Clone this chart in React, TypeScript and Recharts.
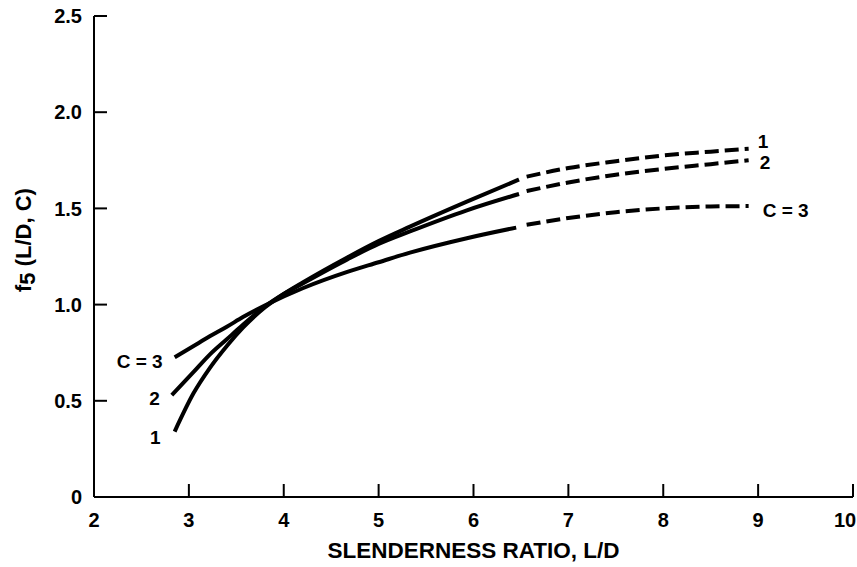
import { LineChart, Line, XAxis, YAxis, Label } from 'recharts'

const FONT = '"Liberation Sans", Arial, Helvetica, sans-serif'

// solid part of each curve
const ldSolid1 = [2.85, 3.05, 3.22, 3.4, 3.57, 3.8, 4.0, 4.2, 4.67, 5.0, 5.33, 5.93, 6.48]
const f5Solid1 = [0.34, 0.54, 0.67, 0.785, 0.88, 0.985, 1.055, 1.115, 1.245, 1.33, 1.405, 1.535, 1.65]

const ldSolid2 = [2.82, 3.05, 3.22, 3.4, 3.57, 3.8, 4.0, 4.2, 4.67, 5.0, 5.33, 5.93, 6.48]
const f5Solid2 = [0.53, 0.65, 0.74, 0.82, 0.895, 0.99, 1.055, 1.11, 1.235, 1.315, 1.38, 1.49, 1.575]

const ldSolid3 = [2.85, 3.05, 3.22, 3.4, 3.57, 3.8, 4.2, 4.67, 5.0, 5.33, 5.93, 6.45]
const f5Solid3 = [0.726, 0.785, 0.835, 0.885, 0.935, 0.995, 1.085, 1.17, 1.22, 1.27, 1.345, 1.4]

// dashed (extrapolated) part
const ldDashed = [6.56, 7.0, 7.5, 8.0, 8.5, 8.9]
const f5Dashed1 = [1.665, 1.71, 1.745, 1.775, 1.795, 1.81]
const f5Dashed2 = [1.59, 1.635, 1.675, 1.705, 1.73, 1.75]
const f5Dashed3 = [1.415, 1.45, 1.48, 1.5, 1.51, 1.512]

const xTicks = [2, 3, 4, 5, 6, 7, 8, 9, 10]
const yTicks = [0, 0.5, 1.0, 1.5, 2.0, 2.5]

const toPoints = (xs: number[], ys: number[]) => xs.map((x, i) => ({ x, y: ys[i] }))

const solid1 = toPoints(ldSolid1, f5Solid1)
const solid2 = toPoints(ldSolid2, f5Solid2)
const solid3 = toPoints(ldSolid3, f5Solid3)
const dashed1 = toPoints(ldDashed, f5Dashed1)
const dashed2 = toPoints(ldDashed, f5Dashed2)
const dashed3 = toPoints(ldDashed, f5Dashed3)

const TICK_LEN = 13
const MARGIN = 12

function XTick({ x, y, payload }: any) {
  // last label sits flush against the right edge in the original
  const tx = payload.value === 10 ? x - 8 : x
  return (
    <g>
      <line x1={x} x2={x} y1={y - MARGIN} y2={y - MARGIN - TICK_LEN} stroke="#000" strokeWidth={2} />
      <text x={tx} y={y + 4} dy="0.71em" textAnchor="middle" fontFamily={FONT} fontWeight="bold" fontSize={20} fill="#000">
        {payload.value}
      </text>
    </g>
  )
}

function YTick({ x, y, payload }: any) {
  const v = payload.value
  return (
    <g>
      <line x1={x + MARGIN} x2={x + MARGIN + TICK_LEN} y1={y} y2={y} stroke="#000" strokeWidth={2} />
      <text x={x} y={y} dy="0.36em" textAnchor="end" fontFamily={FONT} fontWeight="bold" fontSize={20} fill="#000">
        {v === 0 ? '0' : v.toFixed(1)}
      </text>
    </g>
  )
}

function curveLabel(text: string, target: number, dx: number, dy: number, anchor: 'start' | 'end') {
  return (props: any) => {
    const { x, y, index } = props
    if (index !== target) return <g />
    return (
      <text x={x + dx} y={y + dy} dy="0.36em" textAnchor={anchor} fontFamily={FONT} fontWeight="bold" fontSize={19} fill="#000">
        {text}
      </text>
    )
  }
}

function YTitle() {
  const cx = 31
  const cy = 240
  return (
    <text
      x={cx}
      y={cy}
      transform={`rotate(-90, ${cx}, ${cy})`}
      textAnchor="middle"
      fontFamily={FONT}
      fontWeight="bold"
      fontSize={22}
      fill="#000"
    >
      f<tspan dy={4}>5</tspan>
      <tspan dy={-4}> (L/D, C)</tspan>
    </text>
  )
}

export default function App() {
  const common = {
    dataKey: 'y',
    stroke: '#000',
    strokeWidth: 4,
    dot: false,
    activeDot: false,
    isAnimationActive: false,
    type: 'monotone' as const,
  }
  return (
    <div style={{ position: 'absolute', left: 0, top: 0, background: '#fff' }}>
      <LineChart width={857} height={567} margin={{ top: 16, right: 4, bottom: 0, left: 0 }}>
        <XAxis
          type="number"
          dataKey="x"
          domain={[2, 10]}
          ticks={xTicks}
          interval={0}
          height={70}
          tickSize={0}
          tickMargin={MARGIN}
          tickLine={false}
          axisLine={{ stroke: '#000', strokeWidth: 2 }}
          tick={<XTick />}
        >
          <Label
            value="SLENDERNESS RATIO, L/D"
            position="insideBottom"
            offset={9}
            fontFamily={FONT}
            fontWeight="bold"
            fontSize={22.5}
            fill="#000"
          />
        </XAxis>
        <YAxis
          type="number"
          domain={[0, 2.5]}
          ticks={yTicks}
          interval={0}
          width={94}
          tickSize={0}
          tickMargin={MARGIN}
          tickLine={false}
          axisLine={{ stroke: '#000', strokeWidth: 2 }}
          tick={<YTick />}
        >
          <Label content={<YTitle />} />
        </YAxis>

        <Line {...common} data={solid1} label={curveLabel('1', 0, -14, 6, 'end')} />
        <Line {...common} data={solid2} label={curveLabel('2', 0, -12, 3, 'end')} />
        <Line {...common} data={solid3} label={curveLabel('C = 3', 0, -12, 4, 'end')} />

        <Line {...common} data={dashed1} strokeDasharray="14 6" label={curveLabel('1', ldDashed.length - 1, 9, -8, 'start')} />
        <Line {...common} data={dashed2} strokeDasharray="14 6" label={curveLabel('2', ldDashed.length - 1, 11, 2, 'start')} />
        <Line {...common} data={dashed3} strokeDasharray="14 6" label={curveLabel('C = 3', ldDashed.length - 1, 14, 4, 'start')} />
      </LineChart>
    </div>
  )
}
